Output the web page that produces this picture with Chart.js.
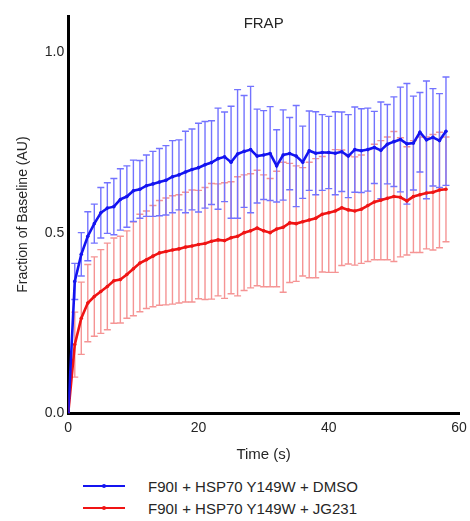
<!DOCTYPE html>
<html>
<head>
<meta charset="utf-8">
<script src="https://cdn.jsdelivr.net/npm/chart.js@4/dist/chart.umd.min.js"></script>
<style>
    body { margin: 0; background: #fff; font-family: "Liberation Sans", Arial, sans-serif; }
    #wrap { position: relative; width: 470px; height: 521px; }
    #legend { position: absolute; left: 83px; top: 475px; color: #262626; font-size: 15px; }
    .row { display: flex; align-items: center; height: 22px; }
    .swatch { position: relative; width: 42px; height: 2px; }
    .swatch i { position: absolute; left: 19px; top: -1px; width: 4px; height: 4px; border-radius: 2px; }
    .row span.txt { margin-left: 23px; }
</style>
</head>
<body>
<div id="wrap">
    <canvas id="frapChart" width="470" height="470"></canvas>
    <div id="legend"></div>
</div>
<script>
var timeS = [0, 1, 2, 3, 4, 5, 6, 7, 8, 9, 10, 11, 12, 13, 14, 15, 16, 17, 18, 19,
    20, 21, 22, 23, 24, 25, 26, 27, 28, 29, 30, 31, 32, 33, 34, 35, 36, 37, 38, 39,
    40, 41, 42, 43, 44, 45, 46, 47, 48, 49, 50, 51, 52, 53, 54, 55, 56, 57, 58];

var dmsoMean = [0, 0.365, 0.44, 0.49, 0.525, 0.555, 0.568, 0.572, 0.592, 0.60,
    0.616, 0.62, 0.63, 0.635, 0.64, 0.645, 0.655, 0.66, 0.668, 0.675,
    0.68, 0.688, 0.694, 0.705, 0.71, 0.695, 0.718, 0.725, 0.73, 0.712,
    0.715, 0.719, 0.685, 0.715, 0.719, 0.712, 0.695, 0.727, 0.72, 0.722,
    0.722, 0.72, 0.724, 0.712, 0.73, 0.727, 0.73, 0.736, 0.728, 0.745,
    0.752, 0.758, 0.746, 0.748, 0.778, 0.757, 0.764, 0.755, 0.781];
var dmsoSD = [0, 0.05, 0.06, 0.068, 0.054, 0.07, 0.07, 0.078, 0.085, 0.085,
    0.085, 0.08, 0.085, 0.09, 0.093, 0.096, 0.10, 0.097, 0.113, 0.112,
    0.123, 0.12, 0.116, 0.14, 0.124, 0.155, 0.178, 0.155, 0.175, 0.13,
    0.123, 0.13, 0.10, 0.125, 0.10, 0.14, 0.10, 0.11, 0.115, 0.105,
    0.10, 0.115, 0.11, 0.115, 0.118, 0.116, 0.115, 0.10, 0.134, 0.11,
    0.124, 0.145, 0.167, 0.13, 0.11, 0.163, 0.135, 0.13, 0.15];

var jgMean = [0, 0.19, 0.263, 0.305, 0.323, 0.337, 0.351, 0.367, 0.37, 0.384,
    0.40, 0.416, 0.425, 0.435, 0.444, 0.448, 0.452, 0.455, 0.46, 0.463,
    0.467, 0.47, 0.476, 0.48, 0.478, 0.486, 0.49, 0.50, 0.505, 0.513,
    0.505, 0.50, 0.51, 0.515, 0.527, 0.525, 0.53, 0.535, 0.54, 0.551,
    0.555, 0.56, 0.569, 0.563, 0.56, 0.565, 0.575, 0.585, 0.59, 0.595,
    0.60, 0.598, 0.588, 0.60, 0.605, 0.61, 0.612, 0.618, 0.62];
var jgSD = [0, 0.09, 0.10, 0.107, 0.11, 0.116, 0.12, 0.118, 0.12, 0.121,
    0.13, 0.135, 0.135, 0.14, 0.145, 0.148, 0.15, 0.15, 0.152, 0.155,
    0.15, 0.155, 0.16, 0.155, 0.16, 0.155, 0.165, 0.16, 0.158, 0.16,
    0.155, 0.15, 0.16, 0.18, 0.165, 0.16, 0.15, 0.16, 0.165, 0.16,
    0.165, 0.17, 0.16, 0.15, 0.15, 0.15, 0.155, 0.16, 0.165, 0.17,
    0.18, 0.165, 0.15, 0.155, 0.16, 0.155, 0.16, 0.16, 0.145];

var seriesNames = ['F90I + HSP70 Y149W + DMSO', 'F90I + HSP70 Y149W + JG231'];
var xTicks = [0, 20, 40, 60];
var yTicks = [0, 0.5, 1.0];

var BLUE = '#1414f0', BLUE_BAR = '#7373ff';
var RED = '#f01414', RED_BAR = '#f59494';
var TEXT = '#262626';

function points(mean) {
    return timeS.map(function (t, i) { return { x: t, y: mean[i] }; });
}

// error bars (mean +/- SD) drawn under the lines, red first so blue covers it
var errorBars = {
    id: 'errorBars',
    beforeDatasetsDraw: function (chart) {
        var ctx = chart.ctx, xs = chart.scales.x, ys = chart.scales.y;
        var sets = [[jgMean, jgSD, RED_BAR], [dmsoMean, dmsoSD, BLUE_BAR]];
        ctx.save();
        ctx.lineWidth = 1.4;
        sets.forEach(function (s) {
            ctx.strokeStyle = s[2];
            timeS.forEach(function (t, i) {
                if (!s[1][i]) return;
                var px = xs.getPixelForValue(t);
                var top = ys.getPixelForValue(s[0][i] + s[1][i]);
                var bot = ys.getPixelForValue(s[0][i] - s[1][i]);
                ctx.beginPath();
                ctx.moveTo(px, top); ctx.lineTo(px, bot);
                ctx.moveTo(px - 3.5, top); ctx.lineTo(px + 3.5, top);
                ctx.moveTo(px - 3.5, bot); ctx.lineTo(px + 3.5, bot);
                ctx.stroke();
            });
        });
        ctx.restore();
    }
};

var plotTitle = {
    id: 'plotTitle',
    afterDraw: function (chart) {
        var ctx = chart.ctx, a = chart.chartArea;
        ctx.save();
        ctx.font = '15px "Liberation Sans", Arial, sans-serif';
        ctx.fillStyle = TEXT;
        ctx.textAlign = 'center';
        ctx.textBaseline = 'middle';
        ctx.fillText('FRAP', (a.left + a.right) / 2, a.top + 8);
        ctx.restore();
    }
};

Chart.defaults.font.family = '"Liberation Sans", Arial, sans-serif';
Chart.defaults.color = TEXT;

new Chart(document.getElementById('frapChart'), {
    type: 'line',
    data: {
        datasets: [
            { label: seriesNames[0], data: points(dmsoMean), borderColor: BLUE, backgroundColor: BLUE,
              borderWidth: 2.6, pointRadius: 1.8, pointBorderWidth: 0, tension: 0 },
            { label: seriesNames[1], data: points(jgMean), borderColor: RED, backgroundColor: RED,
              borderWidth: 2.6, pointRadius: 1.8, pointBorderWidth: 0, tension: 0 }
        ]
    },
    options: {
        responsive: false,
        animation: false,
        layout: { padding: { left: 15, top: 16, right: 11, bottom: 6 } },
        plugins: { legend: { display: false }, tooltip: { enabled: false } },
        scales: {
            x: {
                type: 'linear', min: 0, max: 60,
                grid: { display: false, drawTicks: false },
                border: { color: '#000', width: 3 },
                afterBuildTicks: function (axis) { axis.ticks = xTicks.map(function (v) { return { value: v }; }); },
                // let the "60" label hang into the layout padding
                afterFit: function (axis) { axis.paddingRight = 0; },
                ticks: { font: { size: 14 }, padding: 7, maxRotation: 0 },
                title: { display: true, text: 'Time (s)', font: { size: 15 }, padding: { top: 2, bottom: 0 } }
            },
            y: {
                min: 0, max: 1.1,
                grid: { display: false, drawTicks: false },
                border: { color: '#000', width: 3 },
                afterBuildTicks: function (axis) { axis.ticks = yTicks.map(function (v) { return { value: v }; }); },
                ticks: { font: { size: 14 }, padding: 4, callback: function (v) { return Number(v).toFixed(1); } },
                title: { display: true, text: 'Fraction of Baseline (AU)', font: { size: 14 }, padding: { top: 0, bottom: 9 } }
            }
        }
    },
    plugins: [errorBars, plotTitle]
});

// legend rows under the chart
var legend = document.getElementById('legend');
[[seriesNames[0], BLUE], [seriesNames[1], RED]].forEach(function (item) {
    var row = document.createElement('div');
    row.className = 'row';
    row.innerHTML = '<span class="swatch" style="background:' + item[1] + '"><i style="background:' + item[1] +
        '"></i></span><span class="txt">' + item[0] + '</span>';
    legend.appendChild(row);
});
</script>
</body>
</html>
